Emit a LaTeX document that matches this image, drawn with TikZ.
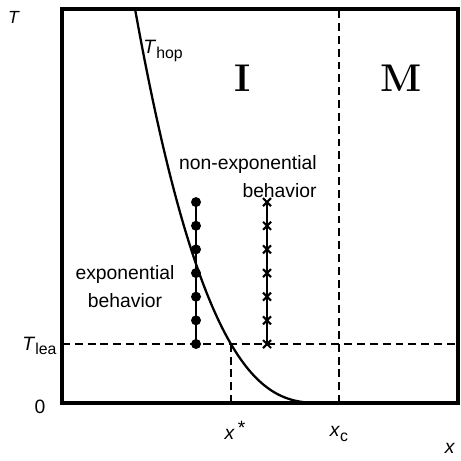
\documentclass[tikz,border=0pt]{standalone}
\usepackage{fontspec}
\newfontfamily\labelfont{Liberation Sans}
\usepackage{tikz}
\newcommand{\lowidx}[1]{\raisebox{-0.4ex}{\fontsize{9}{9}\selectfont #1}}

\begin{document}
\begin{tikzpicture}[font=\labelfont\fontsize{11}{16}\selectfont,
    dashline/.style={line width=1.3pt,dash pattern=on 4.5pt off 2.8pt}]
  \useasboundingbox (-1.24,-1.14) rectangle (7.98,8.06);
  \coordinate (O) at (0,0);
  \coordinate (xs) at (3.38,0);
  \coordinate (xc) at (5.54,0);
  \coordinate (tl) at (0,1.18);
  % phase boundaries
  \draw[dashline] (tl) -- (7.92,1.18);
  \draw[dashline] (xc) -- (5.54,7.88);
  \draw[dashline] (xs) -- (3.38,1.18);
  % T_hop curve
  \begin{scope}
    \clip (O) rectangle (7.92,7.88);
    \draw[line width=1.3pt,domain=1.46:5.19,samples=120]
      plot (\x,{0.2424*exp(2.64*ln(5.2-\x))}) -- (5.2,0);
  \end{scope}
  \draw[line width=2pt] (O) rectangle (7.92,7.88);
  % exponential points
  \draw[line width=1.3pt] (2.68,1.18) -- (2.68,4.02);
  \foreach \k in {0,...,6}
    \fill (2.68,1.18+0.473*\k) circle (0.1);
  % non-exponential points
  \draw[line width=0.9pt] (4.10,1.18) -- (4.10,4.02);
  \foreach \k in {0,...,6}
    \draw[line width=1.2pt] (4.10,1.18+0.473*\k) +(-0.08,-0.08) -- +(0.08,0.08)
      +(-0.08,0.08) -- +(0.08,-0.08);
  % labels
  \node (lblT) at (-0.96,7.72) {\fontsize{10}{12}\selectfont\textit{T}};
  \node (lblx) at (7.76,-0.90) {\textit{x}};
  \node (thop) at (2.02,7.04) {\textit{T}\lowidx{hop}};
  \node (tlea) at (-0.45,1.14) {\textit{T}\lowidx{lea}};
  \node (zero) at (-0.44,-0.08) {0};
  \node (xstar) at (3.46,-0.54) {\textit{x}\,\raisebox{0.5ex}{*}};
  \node (xcrit) at (5.54,-0.62) {\textit{x}\lowidx{c}};
  \node[font=\bfseries\fontsize{22}{26}\selectfont] (ins) at (3.62,6.50) {I};
  \node[font=\bfseries\fontsize{22}{26}\selectfont] (met) at (6.78,6.50) {M};
  \node[anchor=east,align=right,inner sep=0] (nonexp) at (5.10,4.52)
    {non-exponential\\behavior};
  \node[align=center,inner sep=0] (exp) at (1.26,2.33)
    {exponential\\behavior};
\end{tikzpicture}
\end{document}
